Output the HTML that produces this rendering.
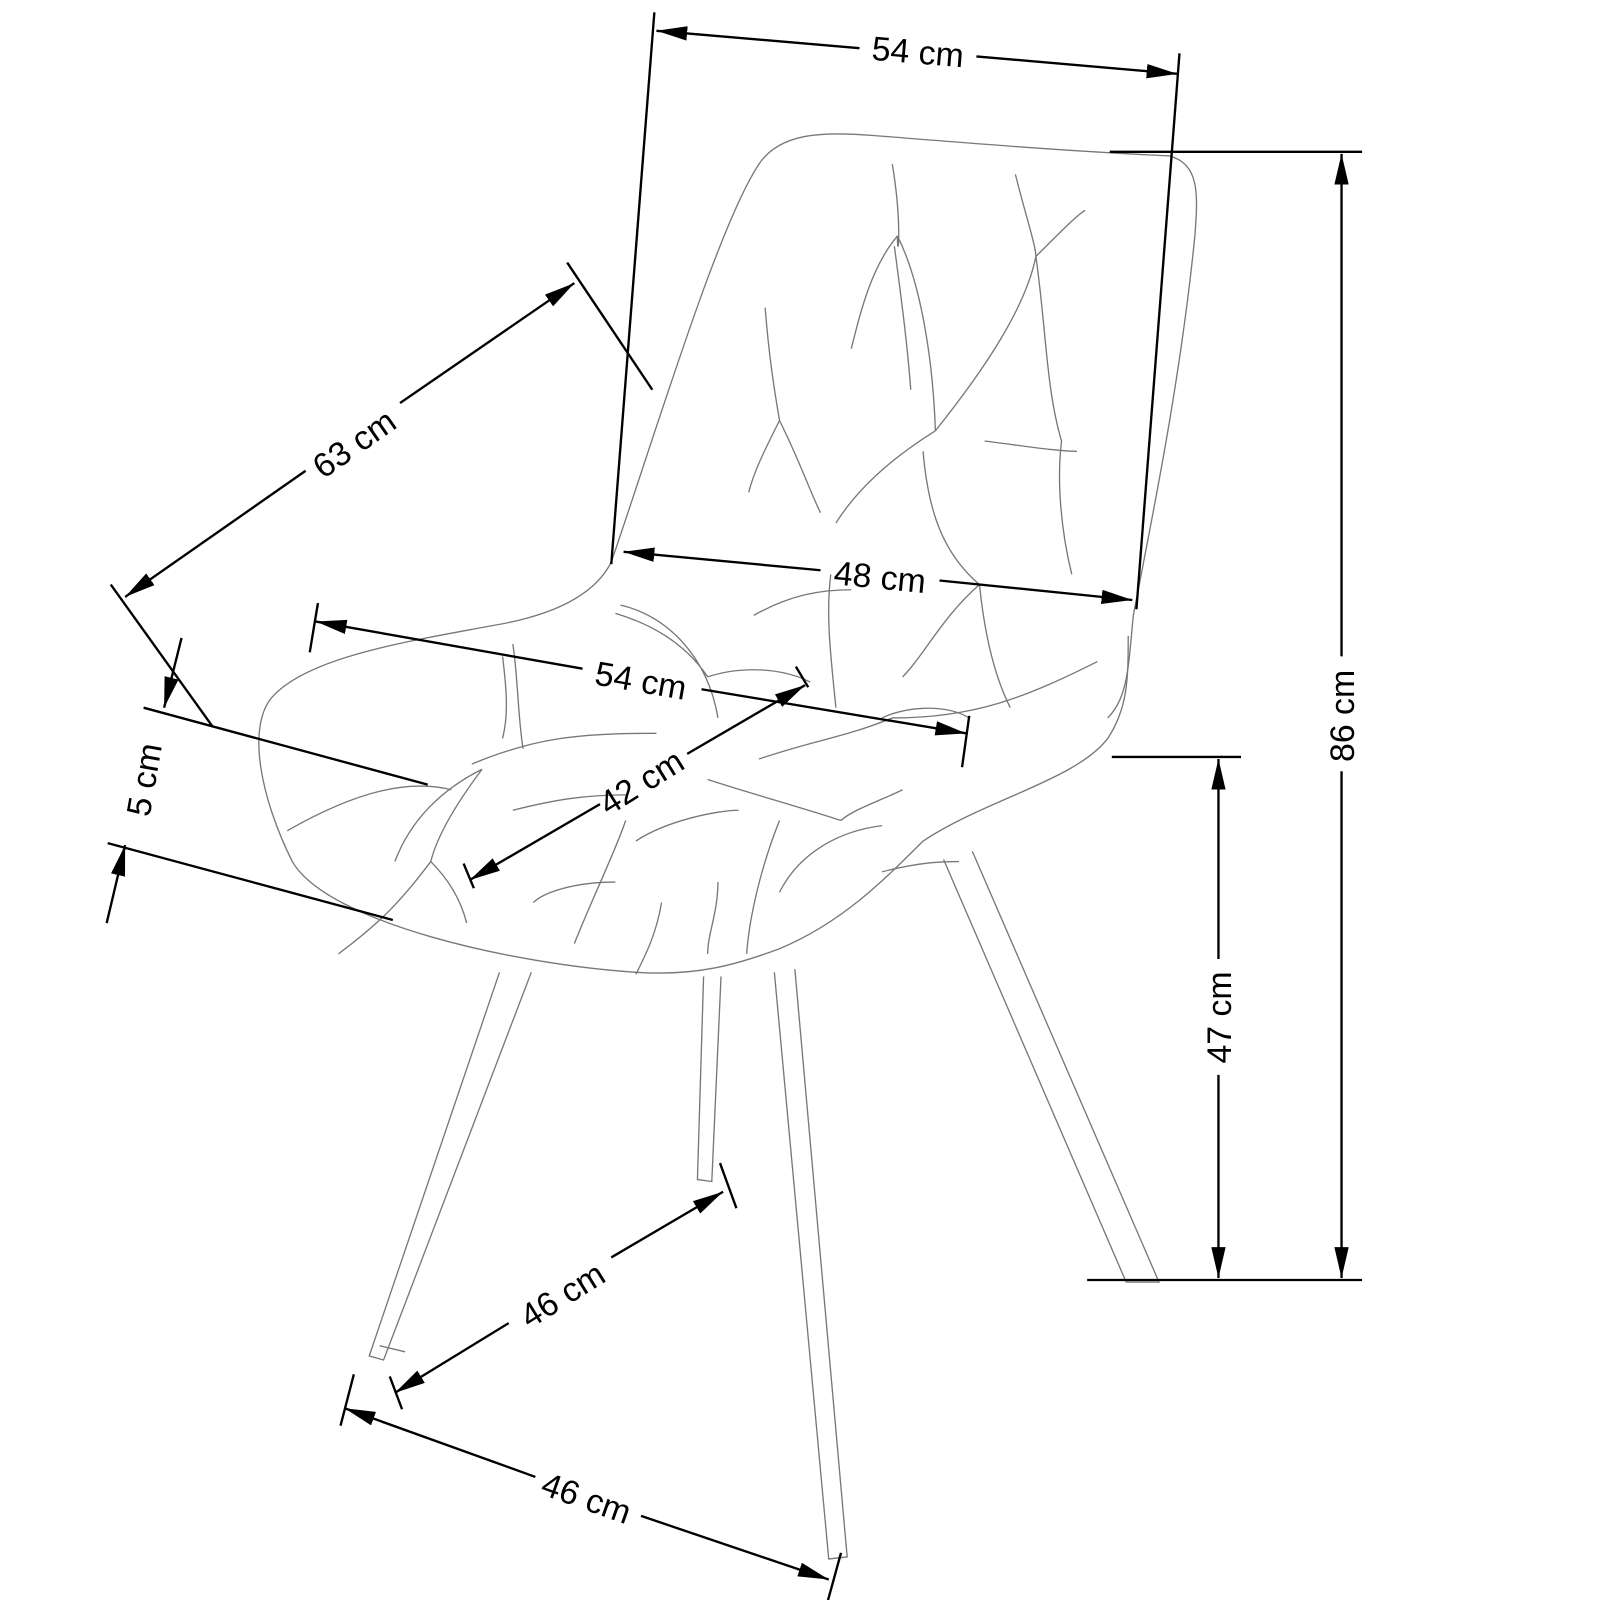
<!DOCTYPE html>
<html><head><meta charset="utf-8"><style>
html,body{margin:0;padding:0;background:#fff;width:1600px;height:1600px;overflow:hidden}
svg{display:block}
text{font-family:"Liberation Sans",Arial,sans-serif;font-size:33px;fill:#000}
</style></head><body>
<svg width="1600" height="1600" viewBox="0 0 1560 1560" xmlns="http://www.w3.org/2000/svg">
<defs>
<marker id="a" viewBox="0 0 30 14" refX="30" refY="7" markerWidth="30" markerHeight="14" markerUnits="userSpaceOnUse" orient="auto-start-reverse">
<path d="M0,0 L30,7 L0,14 Z" fill="#000"/></marker>
</defs>

<g fill="none" stroke="#777" stroke-width="1.3">
<path d="M596,548 C640,420 700,220 740,160 C760,130 800,128 850,132 C950,140 1050,148 1140,152 C1170,160 1168,190 1165,230 C1150,380 1120,520 1105,600 C1100,650 1100,680 1080,700"/>
<path d="M596,548 C580,580 540,600 480,610 C400,625 300,640 265,680 C240,710 255,780 285,840 C320,900 500,940 620,948 C680,952 720,940 760,925 C820,900 860,860 900,820 C960,780 1050,760 1080,720 C1100,690 1100,660 1100,620"/>
<path d="M1070,645 C1000,680 950,700 870,700 C820,720 800,720 740,740"/>
<path d="M860,700 C880,690 920,685 945,700"/>
<path d="M690,660 C720,650 760,650 790,665"/>
<path d="M870,160 C880,220 875,260 875,230 M875,230 C900,280 910,360 912,420"/>
<path d="M912,420 C960,360 1000,300 1010,250 M1010,250 C1040,220 1050,210 1058,205"/>
<path d="M990,170 C1000,210 1010,240 1010,250 M1010,250 C1020,320 1020,380 1035,430"/>
<path d="M875,230 C850,260 840,300 830,340 M872,240 C880,300 885,340 888,380"/>
<path d="M912,420 C880,440 840,470 815,510 M900,440 C905,500 920,540 955,570"/>
<path d="M746,300 C750,350 755,380 760,410 M760,410 C745,440 735,460 730,480 M760,410 C780,450 790,480 800,500"/>
<path d="M960,430 C1000,435 1030,440 1050,440 M1035,430 C1030,470 1035,520 1045,560"/>
<path d="M955,570 C960,620 970,660 985,690 M955,570 C920,600 900,640 880,660"/>
<path d="M735,600 C770,580 800,575 830,575 M810,560 C805,600 810,640 815,690"/>
<path d="M600,598 C640,610 670,630 690,660 M605,590 C650,600 690,640 700,700"/>
<path d="M500,628 C505,660 505,700 510,730 M490,640 C495,680 495,700 490,720"/>
<path d="M470,750 C440,790 425,820 420,840 M470,750 C430,770 400,800 385,840"/>
<path d="M420,840 C390,880 370,900 330,930 M420,840 C440,860 450,880 455,900"/>
<path d="M460,745 C520,720 560,715 640,715 M500,790 C540,780 570,775 610,775"/>
<path d="M440,770 C400,760 350,770 280,810 M610,800 C600,830 580,870 560,920"/>
<path d="M690,760 C720,770 790,790 820,800 M620,820 C650,800 700,790 720,790"/>
<path d="M820,800 C830,790 860,780 880,770 M760,870 C780,830 820,810 860,805"/>
<path d="M645,880 C640,910 630,930 620,950 M700,860 C700,890 690,910 690,930"/>
<path d="M520,880 C530,870 560,860 600,860 M760,800 C740,850 730,900 728,930"/>
<path d="M860,850 C900,840 920,840 935,840"/>
<path d="M487,948 L360,1322 L374,1326 L518,948"/>
<path d="M370,1312 L395,1318"/>
<path d="M686,952 L680,1150 L694,1152 L703,952"/>
<path d="M755,948 L808,1520 L826,1518 L775,945"/>
<path d="M920,838 L1098,1250 L1130,1250 L948,830"/>
</g>

<g stroke="#000" stroke-width="2.3" fill="none">
<line x1="638" y1="12" x2="596" y2="550"/>
<line x1="1150" y1="52" x2="1108" y2="594"/>
<line x1="640" y1="30" x2="838" y2="47" marker-start="url(#a)"/>
<line x1="952" y1="55" x2="1148" y2="72" marker-end="url(#a)"/>
<line x1="608" y1="538" x2="800" y2="556" marker-start="url(#a)"/>
<line x1="916" y1="566" x2="1104" y2="585" marker-end="url(#a)"/>
<line x1="1082" y1="148" x2="1328" y2="148"/>
<line x1="1060" y1="1248" x2="1328" y2="1248"/>
<line x1="1308" y1="150" x2="1308" y2="640" marker-start="url(#a)"/>
<line x1="1308" y1="752" x2="1308" y2="1246" marker-end="url(#a)"/>
<line x1="1084" y1="738" x2="1210" y2="738"/>
<line x1="1188" y1="740" x2="1188" y2="935" marker-start="url(#a)"/>
<line x1="1188" y1="1048" x2="1188" y2="1246" marker-end="url(#a)"/>
<line x1="553" y1="256" x2="636" y2="380"/>
<line x1="108" y1="570" x2="207" y2="708"/>
<line x1="122" y1="582" x2="298" y2="459" marker-start="url(#a)"/>
<line x1="390" y1="393" x2="560" y2="276" marker-end="url(#a)"/>
<line x1="310" y1="588" x2="302" y2="636"/>
<line x1="945" y1="698" x2="938" y2="748"/>
<line x1="308" y1="606" x2="568" y2="652" marker-start="url(#a)"/>
<line x1="684" y1="672" x2="942" y2="715" marker-end="url(#a)"/>
<line x1="452" y1="842" x2="462" y2="866"/>
<line x1="776" y1="650" x2="788" y2="670"/>
<line x1="458" y1="858" x2="585" y2="784" marker-start="url(#a)"/>
<line x1="670" y1="735" x2="785" y2="668" marker-end="url(#a)"/>
<line x1="140" y1="690" x2="417" y2="765"/>
<line x1="105" y1="822" x2="383" y2="897"/>
<line x1="177" y1="622" x2="160" y2="690" marker-end="url(#a)"/>
<line x1="104" y1="900" x2="122" y2="824" marker-end="url(#a)"/>
<line x1="702" y1="1134" x2="718" y2="1178"/>
<line x1="380" y1="1342" x2="392" y2="1374"/>
<line x1="385" y1="1358" x2="496" y2="1290" marker-start="url(#a)"/>
<line x1="596" y1="1226" x2="705" y2="1162" marker-end="url(#a)"/>
<line x1="345" y1="1340" x2="332" y2="1390"/>
<line x1="820" y1="1514" x2="806" y2="1565"/>
<line x1="336" y1="1373" x2="522" y2="1440" marker-start="url(#a)"/>
<line x1="625" y1="1478" x2="808" y2="1540" marker-end="url(#a)"/>
</g>

<text x="895" y="62" text-anchor="middle" transform="rotate(4.7 895 50)">54 cm</text>
<text x="858" y="574" text-anchor="middle" transform="rotate(5.5 858 562)">48 cm</text>
<text x="1308" y="710" text-anchor="middle" transform="rotate(-90 1308 698)">86 cm</text>
<text x="1188" y="1004" text-anchor="middle" transform="rotate(-90 1188 992)">47 cm</text>
<text x="345" y="444" text-anchor="middle" transform="rotate(-35 345 432)">63 cm</text>
<text x="625" y="675" text-anchor="middle" transform="rotate(9.8 625 663)">54 cm</text>
<text x="625" y="774" text-anchor="middle" transform="rotate(-32 625 762)">42 cm</text>
<text x="140" y="772" text-anchor="middle" transform="rotate(-80 140 760)">5 cm</text>
<text x="548" y="1274" text-anchor="middle" transform="rotate(-32 548 1262)">46 cm</text>
<text x="572" y="1472" text-anchor="middle" transform="rotate(19.5 572 1460)">46 cm</text>
</svg>
</body></html>
